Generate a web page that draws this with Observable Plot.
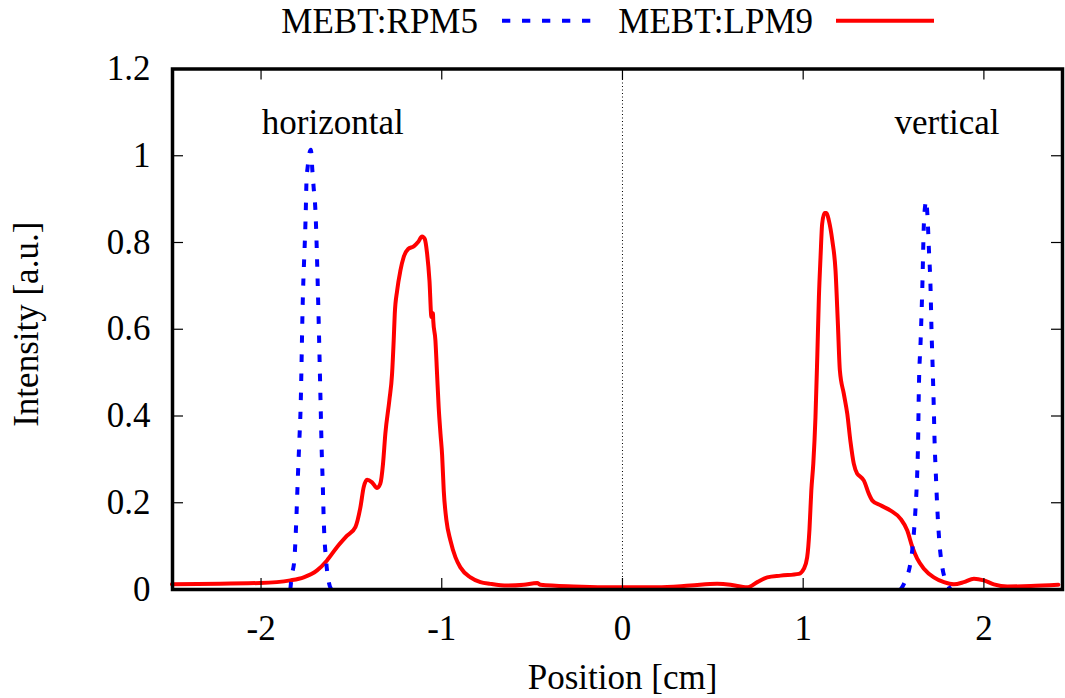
<!DOCTYPE html>
<html><head><meta charset="utf-8">
<script src="https://cdn.jsdelivr.net/npm/d3@7"></script>
<script src="https://cdn.jsdelivr.net/npm/@observablehq/plot@0.6"></script>
<style>
html,body{margin:0;padding:0;background:#fff;}
#chart{width:1065px;}
#legend,#chart svg{display:block;}
#chart, #chart svg, #chart text{font-family:"Liberation Serif","Times New Roman",Times,Tinos,"Nimbus Roman","Noto Serif",FreeSerif,"DejaVu Serif",serif !important;}
</style></head><body><div id="chart"></div>
<script>
// ---- data ----
const seriesNames = ["MEBT:RPM5", "MEBT:LPM9"];
const seriesColors = ["#0000ff", "#ff0000"];

const xTicks = [-2, -1, 0, 1, 2];
const yTicks = [0, 0.2, 0.4, 0.6, 0.8, 1, 1.2];

const annoText = ["horizontal", "vertical"];
const annoX = [-1.603, 1.796];
const annoY = [1.0755, 1.0755];

// MEBT:RPM5, horizontal profile
const rpm5HorizX = [-1.838,-1.830,-1.816,-1.805,-1.797,-1.788,-1.781,-1.770,-1.752,-1.749,-1.741,-1.733,-1.724,-1.716,-1.709,-1.700,-1.683,-1.670,-1.664,-1.659,-1.653,-1.640,-1.627,-1.611];
const rpm5HorizY = [0,0.032,0.067,0.159,0.251,0.344,0.420,0.650,0.881,0.936,0.978,1.005,1.014,0.966,0.927,0.881,0.650,0.420,0.314,0.251,0.159,0.067,0.021,0];
// MEBT:RPM5, vertical profile
const rpm5VertX = [1.539,1.550,1.572,1.589,1.609,1.622,1.631,1.636,1.640,1.650,1.659,1.668,1.675,1.680,1.687,1.696,1.705,1.710,1.717,1.723,1.727,1.734,1.742,1.753,1.770,1.794,1.816];
const rpm5VertY = [0,0.007,0.028,0.051,0.113,0.189,0.267,0.344,0.459,0.574,0.692,0.844,0.885,0.897,0.867,0.782,0.692,0.600,0.505,0.415,0.344,0.267,0.189,0.113,0.051,0.016,0];

// MEBT:LPM9 (both profiles)
const lpm9X = [-2.493,-2.004,-1.838,-1.764,-1.690,-1.635,-1.579,-1.524,-1.478,-1.450,-1.432,-1.413,-1.386,-1.358,-1.340,-1.325,-1.312,-1.290,-1.275,-1.266,-1.260,-1.247,-1.229,-1.211,-1.186,-1.155,-1.131,-1.109,-1.094,-1.081,-1.068,-1.057,-1.049,-1.047,-1.035,-1.026,-1.017,-1.007,-0.998,-0.989,-0.974,-0.952,-0.924,-0.897,-0.841,-0.786,-0.731,-0.638,-0.546,-0.472,-0.454,-0.270,-0.002,0.192,0.376,0.524,0.598,0.690,0.746,0.801,0.875,0.976,1.004,1.022,1.035,1.045,1.056,1.068,1.078,1.087,1.096,1.105,1.118,1.129,1.142,1.161,1.179,1.192,1.203,1.225,1.244,1.262,1.280,1.299,1.308,1.336,1.363,1.383,1.428,1.484,1.539,1.576,1.604,1.631,1.668,1.723,1.779,1.834,1.889,1.945,2.000,2.055,2.130,2.259,2.412];
const lpm9Y = [0.012,0.015,0.021,0.028,0.044,0.067,0.098,0.124,0.144,0.190,0.236,0.253,0.247,0.234,0.244,0.290,0.360,0.436,0.497,0.574,0.636,0.689,0.735,0.766,0.785,0.791,0.801,0.814,0.808,0.774,0.712,0.628,0.637,0.620,0.574,0.497,0.420,0.359,0.310,0.228,0.159,0.113,0.074,0.051,0.028,0.017,0.013,0.009,0.011,0.015,0.011,0.007,0.005,0.005,0.009,0.013,0.011,0.005,0.017,0.028,0.032,0.036,0.048,0.074,0.140,0.228,0.290,0.397,0.536,0.674,0.766,0.843,0.868,0.868,0.851,0.805,0.735,0.613,0.505,0.451,0.405,0.340,0.290,0.267,0.263,0.251,0.221,0.205,0.194,0.182,0.163,0.136,0.098,0.071,0.048,0.028,0.017,0.012,0.017,0.025,0.021,0.012,0.007,0.008,0.011];

// ---- build tables ----
const rpm5 = [
  ...rpm5HorizX.map((x, i) => ({x, y: rpm5HorizY[i], part: "h"})),
  ...rpm5VertX.map((x, i) => ({x, y: rpm5VertY[i], part: "v"}))
];
const lpm9 = lpm9X.map((x, i) => ({x, y: lpm9Y[i]}));
const annos = annoText.map((t, i) => ({t, x: annoX[i], y: annoY[i]}));

const W = 1065, H = 653, mT = 23.5, mB = 109, mL = 172, mR = 3;
const innerW = W - mL - mR, innerH = H - mT - mB, tickLen = 11;

// ---- legend (HTML/SVG above the plot) ----
const legendH = 45;
const ns = "http://www.w3.org/2000/svg";
const leg = document.createElementNS(ns, "svg");
leg.setAttribute("id", "legend");
leg.setAttribute("width", W);
leg.setAttribute("height", legendH);
leg.setAttribute("font-size", "35");
const legItems = [
  {textEnd: 478, x1: 502, x2: 591, dash: "8.3,11.7"},
  {textEnd: 813, x1: 836, x2: 934, dash: null}
];
legItems.forEach((it, i) => {
  const t = document.createElementNS(ns, "text");
  t.setAttribute("x", it.textEnd);
  t.setAttribute("y", 33);
  t.setAttribute("text-anchor", "end");
  t.textContent = seriesNames[i];
  leg.appendChild(t);
  const l = document.createElementNS(ns, "line");
  l.setAttribute("x1", it.x1); l.setAttribute("x2", it.x2);
  l.setAttribute("y1", 20.7); l.setAttribute("y2", 20.7);
  l.setAttribute("stroke", seriesColors[i]);
  l.setAttribute("stroke-width", 4);
  if (it.dash) l.setAttribute("stroke-dasharray", it.dash);
  leg.appendChild(l);
});

// ---- plot ----
const chart = Plot.plot({
  width: W, height: H,
  marginTop: mT, marginBottom: mB, marginLeft: mL, marginRight: mR,
  x: {domain: [-2.49, 2.435]},
  y: {domain: [0, 1.2]},
  style: {fontSize: "35px", color: "black", background: "white", overflow: "visible"},
  marks: [
    Plot.ruleX([0], {stroke: "black", strokeWidth: 1, strokeDasharray: "1,2.5"}),
    Plot.line(lpm9, {x: "x", y: "y", stroke: seriesColors[1], strokeWidth: 4, strokeLinejoin: "round", curve: "monotone-x"}),
    Plot.line(rpm5, {x: "x", y: "y", z: "part", stroke: seriesColors[0], strokeWidth: 4, strokeDasharray: "7.5,11.5", strokeLinecap: "butt", curve: "monotone-x"}),
    Plot.text(annos, {x: "x", y: "y", text: "t", fontSize: 35, fill: "black"}),
    // inward ticks on all four sides
    Plot.tickX(xTicks, {x: d => d, insetTop: innerH - tickLen, stroke: "black", strokeWidth: 1.2}),
    Plot.tickX(xTicks, {x: d => d, insetBottom: innerH - tickLen, stroke: "black", strokeWidth: 1.2}),
    Plot.tickY(yTicks, {y: d => d, insetRight: innerW - tickLen, stroke: "black", strokeWidth: 1.2}),
    Plot.tickY(yTicks, {y: d => d, insetLeft: innerW - tickLen, stroke: "black", strokeWidth: 1.2}),
    Plot.axisX({ticks: xTicks, tickSize: 0, tickPadding: 26, tickFormat: d => String(d), label: null, fontSize: 35}),
    Plot.axisY({ticks: yTicks, tickSize: 0, tickPadding: 22, tickFormat: d => String(d), label: null, fontSize: 35}),
    Plot.text(["Position [cm]"], {frameAnchor: "bottom", textAnchor: "middle", lineAnchor: "middle", dx: 5, dy: 88, text: d => d, fontSize: 35, fill: "black"}),
    Plot.text(["Intensity [a.u.]"], {frameAnchor: "left", textAnchor: "middle", lineAnchor: "middle", dx: -146, dy: -5, rotate: -90, text: d => d, fontSize: 35, fill: "black"}),
    Plot.frame({stroke: "black", strokeWidth: 3.5})
  ]
});

const root = document.getElementById("chart");
root.appendChild(leg);
root.appendChild(chart);
</script></body></html>
